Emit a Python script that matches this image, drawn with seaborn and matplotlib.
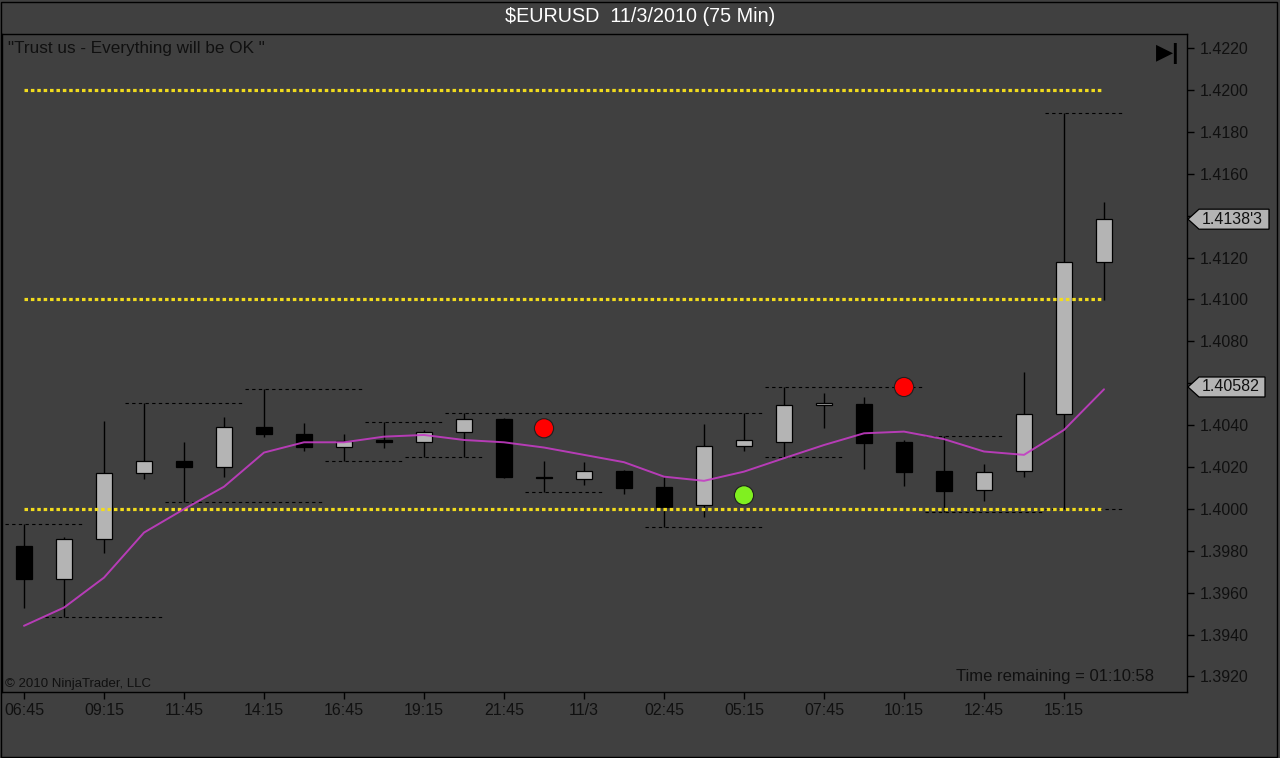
import numpy as np
import pandas as pd
import seaborn as sns
import matplotlib.pyplot as plt
import matplotlib.transforms as mtransforms
from matplotlib.patches import Rectangle, Polygon

# bar data (75 min bars)
tick_labels = ['06:45', '09:15', '11:45', '14:15', '16:45', '19:15', '21:45',
               '11/3', '02:45', '05:15', '07:45', '10:15', '12:45', '15:15']
opens = [1.39825, 1.39667, 1.39855, 1.40170, 1.40229, 1.40202, 1.40393, 1.40358,
         1.40295, 1.40328, 1.40318, 1.40366, 1.40430, 1.40153, 1.40145, 1.40183,
         1.40106, 1.40018, 1.40299, 1.40318, 1.40495, 1.40501, 1.40320, 1.40181,
         1.40089, 1.40181, 1.40453, 1.41178]
highs = [1.39927, 1.39868, 1.40421, 1.40505, 1.40321, 1.40441, 1.40571, 1.40412,
         1.40357, 1.40414, 1.40377, 1.40457, 1.40436, 1.40229, 1.40223, 1.40186,
         1.40151, 1.40406, 1.40457, 1.40582, 1.40555, 1.40533, 1.40329, 1.40350,
         1.40215, 1.40655, 1.41892, 1.41467]
lows = [1.39529, 1.39483, 1.39791, 1.40145, 1.40035, 1.40154, 1.40345, 1.40278,
        1.40229, 1.40290, 1.40247, 1.40247, 1.40146, 1.40080, 1.40115, 1.40072,
        1.39913, 1.39963, 1.40277, 1.40250, 1.40388, 1.40191, 1.40110, 1.39985,
        1.40040, 1.40154, 1.39999, 1.40998]
closes = [1.39666, 1.39855, 1.40170, 1.40229, 1.40202, 1.40390, 1.40357, 1.40295,
          1.40325, 1.40320, 1.40366, 1.40428, 1.40153, 1.40146, 1.40181, 1.40102,
          1.40011, 1.40299, 1.40328, 1.40495, 1.40504, 1.40316, 1.40178, 1.40087,
          1.40175, 1.40452, 1.41178, 1.41383]
ma = [1.39442, 1.39529, 1.39672, 1.39887, 1.39999, 1.40106, 1.40269, 1.40318,
      1.40318, 1.40345, 1.40353, 1.40329, 1.40318, 1.40293, 1.40258, 1.40223,
      1.40154, 1.40134, 1.40178, 1.40242, 1.40305, 1.40361, 1.40369, 1.40333,
      1.40274, 1.40258, 1.40377, 1.40571]

# swing lines: level, first bar, last bar
swing_level = [1.39927, 1.39483, 1.40505, 1.40035, 1.40571, 1.40229, 1.40414, 1.40247,
               1.40457, 1.40080, 1.39913, 1.40582, 1.40250, 1.40350, 1.39985, 1.41892,
               1.39999]
swing_from = [0, 1, 3, 4, 6, 8, 9, 10, 11, 13, 16, 19, 19, 23, 23, 26, 26]
swing_to = [1, 3, 5, 7, 8, 9, 10, 11, 18, 14, 18, 22, 20, 24, 25, 27, 27]

# signal dots
dot_bar = [13, 18, 22]
dot_price = [1.40385, 1.40065, 1.40582]
dot_kind = ['sell', 'buy', 'sell']

# yellow levels
levels = [1.4200, 1.4100, 1.4000]
price_ticks = [1.3920, 1.3940, 1.3960, 1.3980, 1.4000, 1.4020, 1.4040, 1.4060,
               1.4080, 1.4100, 1.4120, 1.4140, 1.4160, 1.4180, 1.4200, 1.4220]
hidden_ticks = [1.4060, 1.4140]  # covered by the price markers
axis_marks = [1.41383, 1.40582]
axis_mark_text = ["1.4138'3", '1.40582']
axis_mark_w = [70, 66]  # box width, px

df = pd.DataFrame({'bar': np.arange(len(opens)), 'open': opens, 'high': highs,
                   'low': lows, 'close': closes, 'ma': ma})

sns.set_theme(style='dark')
plt.rcParams['font.family'] = ['Liberation Sans', 'DejaVu Sans']
bg = '#404040'
ink = '#101010'

fig = plt.figure(figsize=(12.8, 7.58), dpi=100, facecolor=bg)
ax = fig.add_axes([2 / 1280, 1 - 692 / 758, 1185 / 1280, 658 / 758])
ax.set_facecolor(bg)

# candles
for _, r in df.iterrows():
    up = r['close'] >= r['open']
    ax.vlines(r['bar'], r['low'], r['high'], color='black', lw=1, zorder=2)
    lo = min(r['open'], r['close'])
    h = max(abs(r['close'] - r['open']), 0.00008)
    ax.bar(r['bar'], h, bottom=lo, width=0.42, color='#b4b4b4' if up else 'black',
           edgecolor='black', linewidth=0.9, zorder=3)

# swing lines
for lv, a, b in zip(swing_level, swing_from, swing_to):
    ax.hlines(lv, a - 0.48, b + 0.48, color='black', lw=0.8,
              linestyles=(0, (3, 3)), zorder=2)

# yellow levels
ax.hlines(levels, 0, 26.93, color='#f2dc1e', lw=2.3, linestyles=(0, (1.1, 0.9)), zorder=4)

# moving average
sns.lineplot(data=df, x='bar', y='ma', ax=ax, color='#c43cc4', lw=1.4, alpha=0.9, zorder=5)

# signal dots
dots = pd.DataFrame({'bar': dot_bar, 'price': dot_price, 'kind': dot_kind})
sns.scatterplot(data=dots, x='bar', y='price', hue='kind', ax=ax, s=190,
                palette={'sell': '#ff0000', 'buy': '#80f020'}, edgecolor='#202020',
                linewidth=0.8, legend=False, zorder=6)

ax.set_xlim(-0.55, 29.075)
ax.set_ylim(1.39126, 1.42267)
ax.set_xlabel('')
ax.set_ylabel('')
ax.set_xticks(np.arange(0, 27, 2))
ax.set_xticklabels(tick_labels)
ax.yaxis.tick_right()
ax.set_yticks(price_ticks)
ax.set_yticklabels(['' if t in hidden_ticks else f'{t:.4f}' for t in price_ticks])
ax.tick_params(axis='both', direction='out', length=5, width=1, color='black',
               labelcolor=ink, labelsize=11.5, bottom=True, right=True)
ax.tick_params(axis='x', pad=3)
ax.tick_params(axis='y', pad=4)
ax.grid(False)
for s in ax.spines.values():
    s.set_color('black')
    s.set_linewidth(1)
    s.set_visible(True)

# price markers on axis (pentagon tags)
trans = mtransforms.blended_transform_factory(ax.transAxes, ax.transData)
px = 1 / 1185
hy = 10 / 20950
for lv, t, w in zip(axis_marks, axis_mark_text, axis_mark_w):
    x0 = 1 + 1 * px
    x1 = 1 + 12 * px
    x2 = 1 + (12 + w) * px
    tag = Polygon([(x0, lv), (x1, lv + hy), (x2, lv + hy), (x2, lv - hy), (x1, lv - hy)],
                  closed=True, transform=trans, fc='#b4b4b4', ec='black', lw=0.9,
                  clip_on=False, zorder=7)
    ax.add_patch(tag)
    ax.text(1 + 15 * px, lv, t, transform=trans, ha='left', va='center',
            fontsize=11.5, color=ink, clip_on=False, zorder=8)

# texts
fig.text(0.5, 1 - 17 / 758, '$EURUSD  11/3/2010 (75 Min)', ha='center', va='center',
         color='white', fontsize=14.2)
fig.text(8 / 1280, 1 - 48 / 758, '"Trust us - Everything will be OK "', ha='left',
         va='center', color=ink, fontsize=12.3)
fig.text(1154 / 1280, 1 - 676 / 758, 'Time remaining = 01:10:58', ha='right',
         va='center', color=ink, fontsize=12)
fig.text(5 / 1280, 1 - 684 / 758, '\u00a9 2010 NinjaTrader, LLC', ha='left',
         va='center', color=ink, fontsize=9.5)
fig.text(1168 / 1280, 1 - 54 / 758, '\u25b6|', ha='center', va='center',
         color='black', fontsize=16, fontweight='bold')

# outer frame
fig.patches.append(Rectangle((0.5 / 1280, 1.5 / 758), 1276 / 1280, 755 / 758,
                             transform=fig.transFigure, fill=False, ec='black', lw=1))

fig.savefig('out.png', dpi=100, facecolor=bg)
